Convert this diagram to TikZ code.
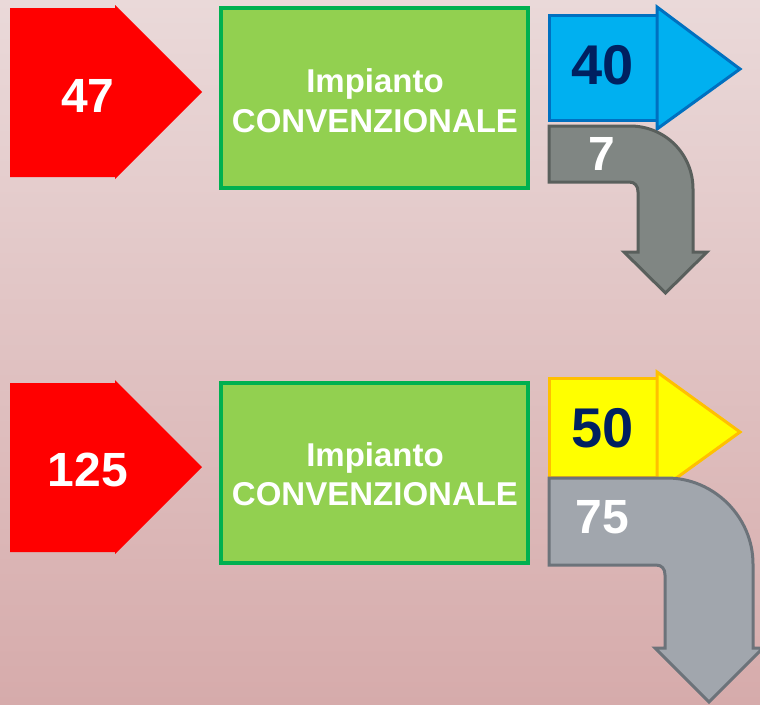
\documentclass[tikz,border=0pt]{standalone}
\usepackage{fontspec}
\setmainfont{Liberation Sans}
\definecolor{bgtop}{RGB}{234,217,217}
\definecolor{bgbot}{RGB}{214,171,171}
\definecolor{redarr}{RGB}{255,0,0}
\definecolor{greenfill}{RGB}{146,208,80}
\definecolor{greenline}{RGB}{0,176,80}
\definecolor{bluefill}{RGB}{0,176,240}
\definecolor{blueline}{RGB}{0,112,192}
\definecolor{yelfill}{RGB}{255,255,0}
\definecolor{yelline}{RGB}{255,192,0}
\definecolor{navy}{RGB}{0,32,96}
\definecolor{grayAfill}{RGB}{128,134,131}
\definecolor{grayAline}{RGB}{89,95,92}
\definecolor{grayBfill}{RGB}{161,166,173}
\definecolor{grayBline}{RGB}{108,115,122}
\tikzset{
  num/.style={font=\fontsize{48}{48}\selectfont\bfseries, text=white, inner sep=0pt},
  numbig/.style={font=\fontsize{56}{56}\selectfont\bfseries, text=navy, inner sep=0pt},
  boxtext/.style={font=\fontsize{33}{33}\selectfont\bfseries, text=white, inner sep=0pt, anchor=base},
  plant/.style={fill=greenfill, draw=greenline, line width=4pt},
  bluestyle/.style={fill=bluefill, draw=blueline, line width=3pt, line join=miter},
  yelstyle/.style={fill=yelfill, draw=yelline, line width=3pt, line join=miter},
  grayA/.style={fill=grayAfill, draw=grayAline, line width=3pt, line join=miter},
  grayB/.style={fill=grayBfill, draw=grayBline, line width=3pt, line join=miter}
}
\begin{document}
\begin{tikzpicture}[x=1pt,y=-1pt]
\useasboundingbox (0,0) rectangle (760,704);
\shade[top color=bgtop, bottom color=bgbot] (0,0) rectangle (760,704);

% ---------- top row ----------
\fill[redarr] (10,8) -- (115,8) -- (115,5) -- (202,92) -- (115,179) -- (115,177) -- (10,177) -- cycle;
\node[num] (in1) at (88,96) {47};

\draw[plant] (221,8) rectangle (528,188);
\node[boxtext] (p1a) at (375,92) {Impianto};
\node[boxtext] (p1b) at (375,132) {CONVENZIONALE};

\draw[bluestyle] (549,15) rectangle (657,120);
\draw[bluestyle] (657,7) -- (740,69) -- (657,129) -- cycle;
\node[numbig] (o1) at (603,65) {40};

\draw[grayA] (549,126) -- (630,126) .. controls (665,126) and (693,154) .. (693,189)
  -- (693,252) -- (707,252) -- (665.5,293) -- (624,252) -- (638,252) -- (638,192)
  .. controls (638,186) and (635,182) .. (629,182) -- (549,182) -- cycle;
\node[num] (w1) at (602,154) {7};

% ---------- bottom row ----------
\fill[redarr] (10,383) -- (115,383) -- (115,380) -- (202,467) -- (115,554) -- (115,552) -- (10,552) -- cycle;
\node[num] (in2) at (88,470) {125};

\draw[plant] (221,383) rectangle (528,563);
\node[boxtext] (p2a) at (375,466) {Impianto};
\node[boxtext] (p2b) at (375,505) {CONVENZIONALE};

\draw[yelstyle] (549,378) rectangle (657,477);
\draw[yelstyle] (657,372) -- (740,432) -- (657,492) -- cycle;
\node[numbig] (o2) at (603,428) {50};

\draw[grayB] (549,478) -- (667,478) .. controls (714,478) and (753,517) .. (753,564)
  -- (753,648) -- (763,648) -- (709,702) -- (655,648) -- (665,648) -- (665,575)
  .. controls (665,569) and (662,565) .. (656,565) -- (549,565) -- cycle;
\node[num] (w2) at (602.5,517) {75};
\end{tikzpicture}
\end{document}
